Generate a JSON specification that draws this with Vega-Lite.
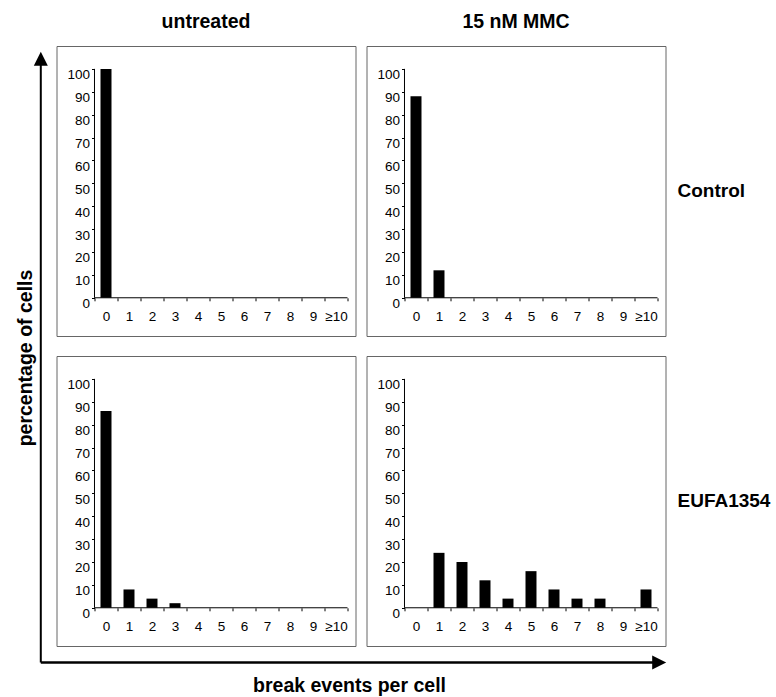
{
  "$schema": "https://vega.github.io/schema/vega-lite/v6.json",
  "padding": {"left": 14.5, "top": 11, "right": 0, "bottom": 0},
  "config": {
    "font": "Liberation Sans",
    "view": {"stroke": "#666", "strokeWidth": 1},
    "axis": {"labelColor": "black", "tickColor": "black", "labelFont": "Liberation Sans", "grid": false}
  },
  "data": {"values": [
      {"treat": "untreated", "line": "Control", "k": "0", "pct": 100},
      {"treat": "untreated", "line": "Control", "k": "1", "pct": 0},
      {"treat": "untreated", "line": "Control", "k": "2", "pct": 0},
      {"treat": "untreated", "line": "Control", "k": "3", "pct": 0},
      {"treat": "untreated", "line": "Control", "k": "4", "pct": 0},
      {"treat": "untreated", "line": "Control", "k": "5", "pct": 0},
      {"treat": "untreated", "line": "Control", "k": "6", "pct": 0},
      {"treat": "untreated", "line": "Control", "k": "7", "pct": 0},
      {"treat": "untreated", "line": "Control", "k": "8", "pct": 0},
      {"treat": "untreated", "line": "Control", "k": "9", "pct": 0},
      {"treat": "untreated", "line": "Control", "k": "≥10", "pct": 0},
      {"treat": "15 nM MMC", "line": "Control", "k": "0", "pct": 88},
      {"treat": "15 nM MMC", "line": "Control", "k": "1", "pct": 12},
      {"treat": "15 nM MMC", "line": "Control", "k": "2", "pct": 0},
      {"treat": "15 nM MMC", "line": "Control", "k": "3", "pct": 0},
      {"treat": "15 nM MMC", "line": "Control", "k": "4", "pct": 0},
      {"treat": "15 nM MMC", "line": "Control", "k": "5", "pct": 0},
      {"treat": "15 nM MMC", "line": "Control", "k": "6", "pct": 0},
      {"treat": "15 nM MMC", "line": "Control", "k": "7", "pct": 0},
      {"treat": "15 nM MMC", "line": "Control", "k": "8", "pct": 0},
      {"treat": "15 nM MMC", "line": "Control", "k": "9", "pct": 0},
      {"treat": "15 nM MMC", "line": "Control", "k": "≥10", "pct": 0},
      {"treat": "untreated", "line": "EUFA1354", "k": "0", "pct": 86},
      {"treat": "untreated", "line": "EUFA1354", "k": "1", "pct": 8},
      {"treat": "untreated", "line": "EUFA1354", "k": "2", "pct": 4},
      {"treat": "untreated", "line": "EUFA1354", "k": "3", "pct": 2},
      {"treat": "untreated", "line": "EUFA1354", "k": "4", "pct": 0},
      {"treat": "untreated", "line": "EUFA1354", "k": "5", "pct": 0},
      {"treat": "untreated", "line": "EUFA1354", "k": "6", "pct": 0},
      {"treat": "untreated", "line": "EUFA1354", "k": "7", "pct": 0},
      {"treat": "untreated", "line": "EUFA1354", "k": "8", "pct": 0},
      {"treat": "untreated", "line": "EUFA1354", "k": "9", "pct": 0},
      {"treat": "untreated", "line": "EUFA1354", "k": "≥10", "pct": 0},
      {"treat": "15 nM MMC", "line": "EUFA1354", "k": "0", "pct": 0},
      {"treat": "15 nM MMC", "line": "EUFA1354", "k": "1", "pct": 24},
      {"treat": "15 nM MMC", "line": "EUFA1354", "k": "2", "pct": 20},
      {"treat": "15 nM MMC", "line": "EUFA1354", "k": "3", "pct": 12},
      {"treat": "15 nM MMC", "line": "EUFA1354", "k": "4", "pct": 4},
      {"treat": "15 nM MMC", "line": "EUFA1354", "k": "5", "pct": 16},
      {"treat": "15 nM MMC", "line": "EUFA1354", "k": "6", "pct": 8},
      {"treat": "15 nM MMC", "line": "EUFA1354", "k": "7", "pct": 4},
      {"treat": "15 nM MMC", "line": "EUFA1354", "k": "8", "pct": 4},
      {"treat": "15 nM MMC", "line": "EUFA1354", "k": "9", "pct": 0},
      {"treat": "15 nM MMC", "line": "EUFA1354", "k": "≥10", "pct": 8}
  ]},
  "bounds": "flush",
  "facet": {
    "column": {
      "field": "treat", "type": "nominal", "sort": ["untreated", "15 nM MMC"],
      "header": {
        "title": "break events per cell", "titleOrient": "bottom",
        "titleFontSize": 19.5, "titleFontWeight": "bold", "titleColor": "black", "titlePadding": 21,
        "labelOrient": "top", "labelFontSize": 19.5, "labelFontWeight": "bold", "labelColor": "black",
        "labelPadding": -1, "labelBaseline": "alphabetic"
      }
    },
    "row": {
      "field": "line", "type": "nominal", "sort": ["Control", "EUFA1354"],
      "header": {
        "title": "percentage of cells", "titleOrient": "left", "titleAngle": -90,
        "titleFontSize": 19.5, "titleFontWeight": "bold", "titleColor": "black", "titlePadding": -8.5,
        "labelOrient": "right", "labelAngle": 0, "labelBaseline": "middle",
        "labelFontSize": 19, "labelFontWeight": "bold", "labelColor": "black", "labelPadding": 12
      }
    }
  },
  "spacing": {"row": 20, "column": 11},
  "spec": {
    "width": 299,
    "height": 290,
    "layer": [
      {
        "mark": {"type": "bar", "color": "black", "width": {"band": 0.478}},
        "encoding": {
          "x": {
            "field": "k", "type": "nominal",
            "sort": ["0", "1", "2", "3", "4", "5", "6", "7", "8", "9", "≥10"],
            "scale": {"paddingInner": 0, "paddingOuter": 1, "align": 0.826},
            "axis": {
              "title": null, "tickBand": "extent", "domain": false, "offset": -38.2,
              "tickSize": 3, "labelAngle": 0, "labelFontSize": 13.5, "labelBaseline": "top",
              "labelPadding": 8.5
            }
          },
          "y": {
            "field": "pct", "type": "quantitative",
            "scale": {"domain": [-16.7, 110], "nice": false, "zero": false},
            "axis": {
              "title": null, "values": [0, 10, 20, 30, 40, 50, 60, 70, 80, 90, 100],
              "domain": false, "offset": -38, "tickSize": 3, "labelFontSize": 13.5,
              "labelPadding": 2, "labelBaseline": "middle", "labelOffset": 6, "labelOverlap": false
            }
          }
        }
      },
      {
        "transform": [{"filter": "datum.k == '0'"}],
        "layer": [
          {
            "mark": {"type": "rule", "color": "black", "strokeWidth": 1},
            "encoding": {
              "x": {"datum": -0.5, "type": "quantitative", "scale": {"domain": [-2.152, 10.848], "nice": false, "zero": false}, "axis": null},
              "x2": {"datum": 10.5},
              "y": {"datum": 0, "type": "quantitative", "scale": {"domain": [-16.7, 110], "nice": false, "zero": false}, "axis": null}
            }
          },
          {
            "mark": {"type": "rule", "color": "black", "strokeWidth": 1},
            "encoding": {
              "x": {"datum": -0.5, "type": "quantitative", "axis": null},
              "y": {"datum": 0, "type": "quantitative", "axis": null},
              "y2": {"datum": 100}
            }
          },
          {
            "transform": [{"filter": "datum.treat == 'untreated' && datum.line == 'EUFA1354'"}],
            "layer": [
              {
                "mark": {"type": "rule", "color": "black", "strokeWidth": 2},
                "encoding": {
                  "x": {"datum": -2.835, "type": "quantitative", "axis": null},
                  "y": {"datum": -23.91, "type": "quantitative", "axis": null},
                  "y2": {"datum": 240}
                }
              },
              {
                "mark": {"type": "rule", "color": "black", "strokeWidth": 2.5},
                "encoding": {
                  "x": {"datum": -2.835, "type": "quantitative", "axis": null},
                  "x2": {"datum": 24.1},
                  "y": {"datum": -23.91, "type": "quantitative", "axis": null}
                }
              },
              {
                "mark": {"type": "point", "shape": "M0,0L0.5,1L-0.5,1Z", "size": 784, "filled": true, "color": "black", "opacity": 1, "strokeWidth": 0},
                "encoding": {
                  "x": {"datum": -2.835, "type": "quantitative", "axis": null},
                  "y": {"datum": 242.95, "type": "quantitative", "axis": null}
                }
              },
              {
                "mark": {"type": "point", "shape": "M0,0L-1,-0.5L-1,0.5Z", "size": 784, "filled": true, "color": "black", "opacity": 1, "strokeWidth": 0},
                "encoding": {
                  "x": {"datum": 24.357, "type": "quantitative", "axis": null},
                  "y": {"datum": -23.91, "type": "quantitative", "axis": null}
                }
              }
            ]
          }
        ]
      }
    ],
    "resolve": {"scale": {"x": "independent", "y": "independent"}}
  },
  "resolve": {"axis": {"x": "independent", "y": "independent"}}
}
